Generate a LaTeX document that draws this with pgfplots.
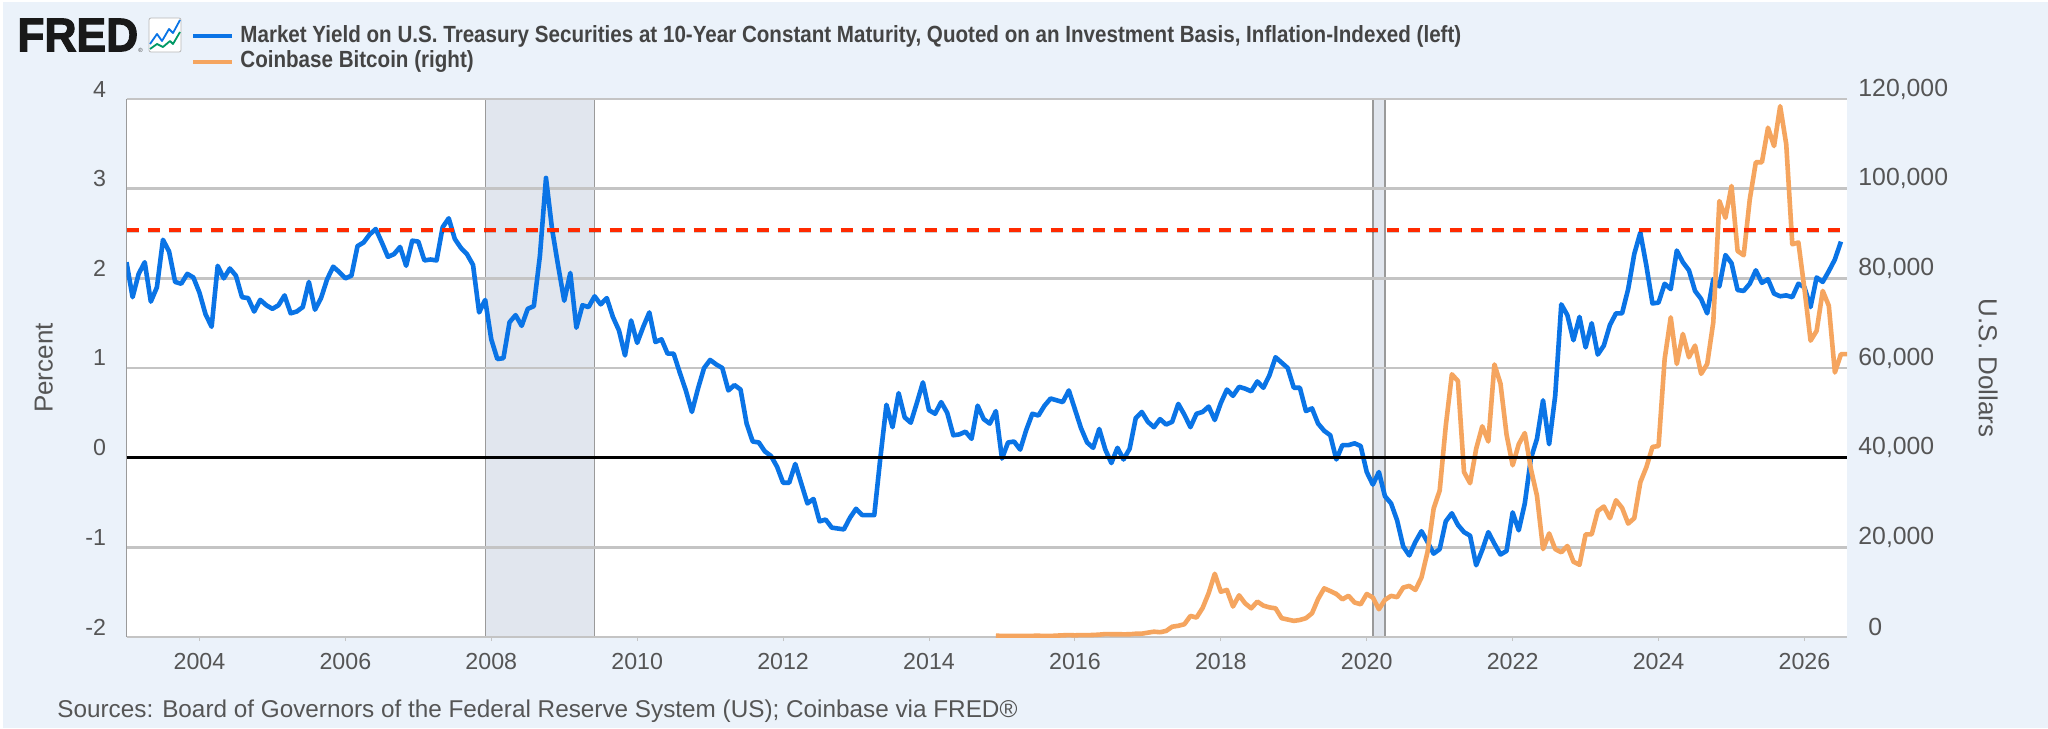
\documentclass[border=0pt]{standalone}
\usepackage{fontspec}
\setmainfont{Liberation Sans}
\usepackage{pgfplots}
\pgfplotsset{compat=1.18}
\usepackage{graphicx}

\definecolor{pagebg}{HTML}{EBF2FA}
\definecolor{bandfill}{HTML}{E1E6EE}
\definecolor{gridgray}{HTML}{C4C4C4}
\definecolor{edgegray}{HTML}{9A9A9A}
\definecolor{textgray}{HTML}{555555}
\definecolor{legendgray}{HTML}{444444}
\definecolor{fredblue}{HTML}{0A74E6}
\definecolor{btcorange}{HTML}{F5A55F}
\definecolor{refred}{HTML}{FF2A00}

% all axes share one frame, 1 image pixel = 0.5pt; x is months since Jan 2003
\pgfplotsset{
  frame/.style={
    scale only axis,
    width=860.25pt,
    height=269pt,
    at={(63.25pt,-318.5pt)},
    anchor=south west,
    xmin=0, xmax=283,
    clip=true,
    /pgf/number format/assume math mode=true,
    tick label style={font=\fontsize{11.6}{14}\selectfont, text=textgray, inner sep=0pt},
  },
  leftscale/.style={frame, ymin=-2, ymax=4},
}

\begin{document}
\begin{tikzpicture}
\path[use as bounding box] (0,0) rectangle (1024pt,-364pt);
\fill[white] (0,0) rectangle (1024pt,-364pt);
\fill[pagebg] (1.25pt,-1pt) rectangle (1024pt,-364pt);
\fill[white] (63.25pt,-49.5pt) rectangle (923.5pt,-318.5pt);

% recessions, below the grid
\begin{axis}[leftscale, hide axis]
\addplot[fill=bandfill, draw=edgegray, line width=0.7pt] coordinates {(59,-2) (59,4) (77,4) (77,-2)} --cycle;
\addplot[fill=bandfill, draw=edgegray, line width=0.7pt] coordinates {(205,-2) (205,4) (207,4) (207,-2)} --cycle;
\end{axis}

% left axis: grid and real yield
\begin{axis}[leftscale,
  axis x line*=bottom, axis y line*=left,
  x axis line style={draw=gridgray, line width=1.4pt},
  y axis line style={draw=edgegray, line width=0.7pt},
  xtick={12,36,60,84,108,132,156,180,204,228,252,276},
  xticklabels={2004,2006,2008,2010,2012,2014,2016,2018,2020,2022,2024,2026},
  xtick align=outside,
  major tick length=2pt,
  xtick style={draw=gridgray, line width=0.5pt},
  xticklabel style={anchor=center, yshift=-10pt},
  ytick={-2,-1,0,1,2,3,4},
  ytick style={draw=none},
  yticklabel style={anchor=east, xshift=-10pt, yshift=5pt},
  ymajorgrids,
  grid style={draw=gridgray, line width=1.4pt},
  ylabel={Percent},
  every axis y label/.style={at={(axis description cs:-0.048,0.5)}, rotate=90, anchor=center, font=\fontsize{13}{15}\selectfont, text=textgray},
]
\addplot[fredblue, line width=2.3pt, line join=round] coordinates {
(0,2.18) (1,1.79) (2,2.05) (3,2.18) (4,1.74) (5,1.90) (6,2.43) (7,2.30) (8,1.96) (9,1.94) (10,2.05) (11,2.01)
(12,1.84) (13,1.60) (14,1.46) (15,2.14) (16,2.00) (17,2.11) (18,2.03) (19,1.79) (20,1.78) (21,1.63) (22,1.76) (23,1.70)
(24,1.66) (25,1.70) (26,1.81) (27,1.61) (28,1.63) (29,1.68) (30,1.96) (31,1.65) (32,1.78) (33,1.99) (34,2.13) (35,2.07)
(36,2.00) (37,2.03) (38,2.36) (39,2.40) (40,2.49) (41,2.55) (42,2.40) (43,2.24) (44,2.27) (45,2.35) (46,2.14) (47,2.42)
(48,2.41) (49,2.20) (50,2.21) (51,2.20) (52,2.57) (53,2.67) (54,2.44) (55,2.34) (56,2.27) (57,2.15) (58,1.62) (59,1.76)
(60,1.32) (61,1.10) (62,1.11) (63,1.51) (64,1.59) (65,1.47) (66,1.66) (67,1.69) (68,2.25) (69,3.12) (70,2.55) (71,2.14)
(72,1.75) (73,2.06) (74,1.45) (75,1.70) (76,1.68) (77,1.80) (78,1.71) (79,1.78) (80,1.57) (81,1.42) (82,1.14) (83,1.53)
(84,1.28) (85,1.46) (86,1.62) (87,1.29) (88,1.32) (89,1.16) (90,1.16) (91,0.95) (92,0.75) (93,0.51) (94,0.77) (95,1.00)
(96,1.09) (97,1.04) (98,1.00) (99,0.75) (100,0.81) (101,0.76) (102,0.38) (103,0.18) (104,0.17) (105,0.07) (106,0.02) (107,-0.10)
(108,-0.28) (109,-0.28) (110,-0.07) (111,-0.29) (112,-0.51) (113,-0.46) (114,-0.71) (115,-0.69) (116,-0.78) (117,-0.79) (118,-0.80) (119,-0.67)
(120,-0.57) (121,-0.64) (122,-0.64) (123,-0.64) (124,0.00) (125,0.59) (126,0.34) (127,0.72) (128,0.45) (129,0.39) (130,0.61) (131,0.84)
(132,0.53) (133,0.49) (134,0.62) (135,0.50) (136,0.25) (137,0.26) (138,0.29) (139,0.21) (140,0.58) (141,0.43) (142,0.38) (143,0.52)
(144,-0.01) (145,0.17) (146,0.18) (147,0.09) (148,0.31) (149,0.49) (150,0.47) (151,0.58) (152,0.66) (153,0.64) (154,0.62) (155,0.75)
(156,0.54) (157,0.33) (158,0.17) (159,0.11) (160,0.32) (161,0.09) (162,-0.06) (163,0.11) (164,-0.02) (165,0.10) (166,0.44) (167,0.51)
(168,0.40) (169,0.34) (170,0.43) (171,0.37) (172,0.40) (173,0.60) (174,0.48) (175,0.34) (176,0.49) (177,0.51) (178,0.57) (179,0.42)
(180,0.61) (181,0.76) (182,0.69) (183,0.79) (184,0.77) (185,0.74) (186,0.85) (187,0.78) (188,0.92) (189,1.12) (190,1.06) (191,1.00)
(192,0.78) (193,0.78) (194,0.52) (195,0.55) (196,0.38) (197,0.30) (198,0.25) (199,-0.02) (200,0.14) (201,0.14) (202,0.16) (203,0.13)
(204,-0.16) (205,-0.30) (206,-0.16) (207,-0.43) (208,-0.51) (209,-0.70) (210,-0.99) (211,-1.09) (212,-0.94) (213,-0.82) (214,-0.94) (215,-1.07)
(216,-1.02) (217,-0.71) (218,-0.62) (219,-0.75) (220,-0.83) (221,-0.87) (222,-1.20) (223,-1.03) (224,-0.83) (225,-0.96) (226,-1.08) (227,-1.04)
(228,-0.61) (229,-0.81) (230,-0.51) (231,-0.01) (232,0.21) (233,0.64) (234,0.15) (235,0.69) (236,1.71) (237,1.59) (238,1.31) (239,1.57)
(240,1.23) (241,1.50) (242,1.15) (243,1.25) (244,1.48) (245,1.61) (246,1.61) (247,1.88) (248,2.27) (249,2.51) (250,2.14) (251,1.72)
(252,1.73) (253,1.94) (254,1.88) (255,2.31) (256,2.18) (257,2.09) (258,1.86) (259,1.77) (260,1.61) (261,1.99) (262,1.91) (263,2.26)
(264,2.17) (265,1.87) (266,1.86) (267,1.94) (268,2.09) (269,1.95) (270,1.99) (271,1.83) (272,1.80) (273,1.81) (274,1.79) (275,1.94)
(276,1.90) (277,1.68) (278,2.01) (279,1.96) (280,2.08) (281,2.21) (282,2.41)
};
\end{axis}

% right axis: bitcoin
\begin{axis}[frame,
  ymin=0, ymax=120000,
  axis x line=none, axis y line*=right,
  y axis line style={draw=none},
  ytick={0,20000,40000,60000,80000,100000,120000},
  yticklabels={\hspace*{5pt}0,{20,000},{40,000},{60,000},{80,000},{100,000},{120,000}},
  scaled y ticks=false,
  ytick style={draw=none},
  major tick length=0pt,
  yticklabel style={font=\fontsize{12.4}{14}\selectfont, anchor=west, xshift=5.5pt, yshift=5pt},
  ylabel={U.S. Dollars},
  every axis y label/.style={at={(axis description cs:1.082,0.5)}, rotate=-90, anchor=center, font=\fontsize{13}{15}\selectfont, text=textgray},
]
\addplot[btcorange, line width=2.3pt, line join=round] coordinates {
(143,320) (144,220) (145,250) (146,240) (147,235) (148,240) (149,265) (150,285) (151,230) (152,235) (153,310) (154,375) (155,430)
(156,370) (157,435) (158,415) (159,450) (160,530) (161,650) (162,620) (163,620) (164,600) (165,610) (166,730) (167,740)
(168,970) (169,1190) (170,1070) (171,1350) (172,2300) (173,2500) (174,2850) (175,4700) (176,4340) (177,6470) (178,9800) (179,14100)
(180,10100) (181,10500) (182,6800) (183,9300) (184,7500) (185,6400) (186,7900) (187,7000) (188,6600) (189,6400) (190,4200) (191,3900)
(192,3600) (193,3800) (194,4200) (195,5300) (196,8500) (197,10850) (198,10250) (199,9600) (200,8400) (201,9200) (202,7700) (203,7300)
(204,9600) (205,8800) (206,6200) (207,8290) (208,9180) (209,8880) (210,11030) (211,11400) (212,10500) (213,13250) (214,19000) (215,28640)
(216,32700) (217,47100) (218,58600) (219,57100) (220,36800) (221,34300) (222,42000) (223,47000) (224,43600) (225,60800) (226,56500) (227,45100)
(228,38300) (229,43000) (230,45500) (231,37500) (232,31500) (233,19600) (234,23100) (235,19600) (236,18900) (237,20300) (238,16800) (239,16100)
(240,22900) (241,22900) (242,28100) (243,29100) (244,26500) (245,30500) (246,28800) (247,25300) (248,26500) (249,34500) (250,37900) (251,42400)
(252,42600) (253,62000) (254,71300) (255,60900) (256,67600) (257,62400) (258,65000) (259,58700) (260,60900) (261,70200) (262,97250) (263,93500)
(264,100600) (265,86100) (266,85150) (267,97600) (268,105900) (269,105900) (270,113600) (271,109500) (272,118400) (273,109900) (274,87600) (275,88000)
(276,77600) (277,66100) (278,68300) (279,77200) (280,73900) (281,59000) (282,63100) (283,63100)
};
\end{axis}

% reference lines on top, left scale
\begin{axis}[leftscale, hide axis]
\addplot[black, line width=1.7pt] coordinates {(0,0) (283,0)};
\addplot[black, opacity=0.18, line width=1.7pt, dash pattern=on 6pt off 4.5pt] coordinates {(0,2.52) (283,2.52)};
\addplot[refred, line width=1.6pt, dash pattern=on 6pt off 4.5pt] coordinates {(0,2.54) (283,2.54)};
\end{axis}

% header and source line, placed in image pixels
\begin{scope}[x=0.5pt, y=-0.5pt]
\node[anchor=west, inner sep=0pt, text=black!90] at (17,35) {\scalebox{0.94}[1]{\fontsize{23.6}{24}\selectfont\bfseries\addfontfeature{FakeBold=2.5}FRED}};
\node[anchor=west, inner sep=0pt, text=legendgray] at (138,50) {\fontsize{3}{3}\selectfont ®};
\draw[edgegray!70, fill=white, line width=0.4pt, rounded corners=1pt] (149,18) rectangle (181,52);
\draw[fredblue, line width=0.9pt, line join=round] (150,44) -- (157,34) -- (162,41) -- (169,29) -- (173,33) -- (180,20);
\draw[teal!80!green, line width=0.9pt, line join=round] (150,49) -- (157,44) -- (163,47) -- (170,41) -- (173,44) -- (180,32);
\draw[fredblue, line width=2.3pt] (193,36) -- (232,36);
\draw[btcorange, line width=2.3pt] (193,62) -- (232,62);
\node[anchor=west, inner sep=0pt, text=legendgray] at (240,36) {\scalebox{0.88}[1]{\fontsize{11.7}{14}\selectfont\bfseries Market Yield on U.S. Treasury Securities at 10-Year Constant Maturity, Quoted on an Investment Basis, Inflation-Indexed (left)}};
\node[anchor=west, inner sep=0pt, text=legendgray] at (240,61) {\scalebox{0.88}[1]{\fontsize{11.7}{14}\selectfont\bfseries Coinbase Bitcoin (right)}};
\node[anchor=west, inner sep=0pt, text=textgray] at (57,711) {\fontsize{12.15}{14}\selectfont Sources: Board of Governors of the Federal Reserve System (US); Coinbase via FRED®};
\end{scope}
\end{tikzpicture}
\end{document}
